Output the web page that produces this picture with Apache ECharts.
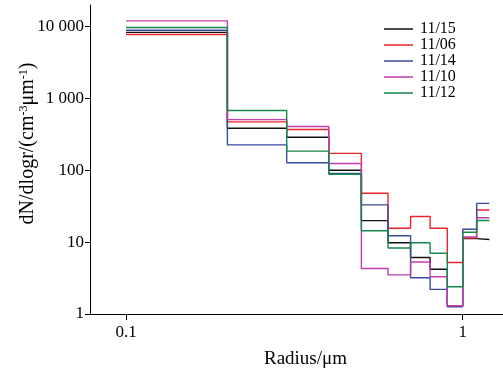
<!DOCTYPE html>
<html>
<head>
<meta charset="utf-8">
<script src="https://cdn.jsdelivr.net/npm/echarts@6/dist/echarts.min.js"></script>
<style>
  html, body { margin: 0; padding: 0; background: #ffffff; }
  #chart { width: 503px; height: 374px; }
</style>
</head>
<body>
<div id="chart"></div>
<script>
// bin edges (radius, um) and dN/dlogr per bin for each day
var binEdges = [0.1, 0.2, 0.3, 0.4, 0.5, 0.6, 0.7, 0.8, 0.9, 1.0, 1.1, 1.2];
var seriesNames = ["11/15", "11/06", "11/14", "11/10", "11/12"];
var d1115 = [8300, 385, 288, 100, 19.9, 9.8, 6.1, 4.2, 1.3, 11.2, 10.9];
var d1106 = [7750, 471, 370, 172, 48, 15.6, 22.7, 15.6, 5.2, 11.4, 28];
var d1114 = [8900, 226, 127, 90, 33, 12.3, 3.2, 2.2, 1.26, 15.1, 34.6];
var d1110 = [12000, 507, 407, 124, 4.3, 3.5, 5.3, 3.3, 1.3, 11.8, 21.8];
var d1112 = [9700, 680, 185, 88, 14.4, 8.3, 9.8, 7.0, 2.4, 13.7, 20];
var lineColors = ["#111111", "#e8262a", "#3a4aa0", "#c23bb0", "#14874a"];
var xTickValues = [0.1, 1];
var yTickValues = [1, 10, 100, 1000, 10000];
var yTickLabels = ["1", "10", "100", "1 000", "10 000"];

function stepData(vals) {
  var out = [];
  for (var i = 0; i < binEdges.length; i++) {
    var v = vals[Math.min(i, vals.length - 1)];
    out.push([Math.log10(binEdges[i]), Math.log10(v)]);
  }
  return out;
}

function display_chart() {
  var chart = echarts.init(document.getElementById('chart'), null, {renderer: 'canvas'});
  var allData = [d1115, d1106, d1114, d1110, d1112];
  var series = allData.map(function (vals, i) {
    return {
      name: seriesNames[i],
      type: 'line',
      step: 'end',
      symbol: 'none',
      data: stepData(vals),
      lineStyle: {color: lineColors[i], width: 1.4},
      itemStyle: {color: lineColors[i]}
    };
  });
  var xTicks = xTickValues.map(function (v) { return Math.log10(v); });
  var yTicks = yTickValues.map(function (v) { return Math.log10(v); });
  var font = '"Liberation Serif", "DejaVu Serif", serif';
  var option = {
    animation: false,
    backgroundColor: '#ffffff',
    textStyle: {fontFamily: font},
    grid: {left: 90, right: 0, top: 5, bottom: 54},
    legend: {
      orient: 'vertical',
      left: 384,
      top: 21,
      padding: 0,
      icon: 'rect',
      itemWidth: 29,
      itemHeight: 1.5,
      itemGap: 0,
      textStyle: {fontFamily: font, fontSize: 16, color: '#000', lineHeight: 15.5, height: 15.5, padding: [0, 0, 0, 2]},
      data: seriesNames
    },
    xAxis: {
      type: 'value',
      min: -1.107,
      max: 0.1196,
      name: 'Radius/\u03bcm',
      nameLocation: 'middle',
      nameGap: 36,
      nameMoveOverlap: false,
      nameTextStyle: {fontFamily: font, fontSize: 19, color: '#000', padding: [0, 0, 0, 18]},
      axisLine: {onZero: false, lineStyle: {color: '#000', width: 1}},
      axisTick: {customValues: xTicks, length: 6, lineStyle: {color: '#000'}},
      axisLabel: {
        customValues: xTicks,
        fontFamily: font, fontSize: 17, color: '#000', margin: 10,
        formatter: function (v) { return Math.round(v) === 0 ? '1' : '0.1'; }
      },
      splitLine: {show: false}
    },
    yAxis: {
      type: 'value',
      min: 0,
      max: 4.3,
      name: 'dN/dlogr/(cm{sup|-3}\u03bcm{sup|-1})',
      nameLocation: 'middle',
      nameGap: 52,
      nameMoveOverlap: false,
      nameTextStyle: {
        fontFamily: font, fontSize: 20, color: '#000', padding: [0, 0, 0, 32],
        rich: {sup: {fontFamily: font, fontSize: 12, color: '#000', verticalAlign: 'top', lineHeight: 12}}
      },
      axisLine: {show: true, onZero: false, lineStyle: {color: '#000', width: 1}},
      axisTick: {show: true, customValues: yTicks, length: 5, lineStyle: {color: '#000'}},
      axisLabel: {
        customValues: yTicks,
        fontFamily: font, fontSize: 17, color: '#000', margin: 6,
        formatter: function (v) { return yTickLabels[Math.round(v)]; }
      },
      splitLine: {show: false}
    },
    series: series
  };
  chart.setOption(option);
}
display_chart();
</script>
</body>
</html>
